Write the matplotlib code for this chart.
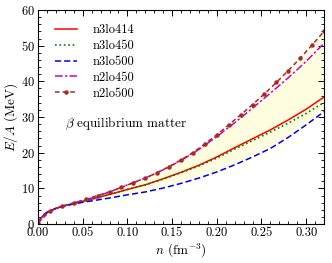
import matplotlib
matplotlib.use("Agg")
import matplotlib.pyplot as plt
import numpy as np
from matplotlib.ticker import MultipleLocator

plt.rcParams['font.family'] = ['cmr10', 'DejaVu Serif']
plt.rcParams['mathtext.fontset'] = 'cm'
plt.rcParams['axes.formatter.use_mathtext'] = True

n = [0.0, 0.005, 0.01, 0.02, 0.03, 0.04, 0.05, 0.06, 0.08, 0.10, 0.12, 0.14,
     0.16, 0.18, 0.20, 0.22, 0.24, 0.26, 0.28, 0.30, 0.32]
n3lo414 = [0.3, 2.2, 3.2, 4.4, 5.2, 5.8, 6.4, 7.0, 8.3, 9.7, 11.0, 12.7,
           14.5, 16.5, 18.8, 21.4, 23.9, 26.4, 29.2, 32.2, 35.6]
n3lo450 = [0.3, 2.2, 3.2, 4.4, 5.2, 5.8, 6.4, 7.0, 8.3, 9.7, 11.0, 12.6,
           14.4, 16.3, 18.5, 21.0, 23.4, 25.8, 28.3, 31.0, 34.1]
n3lo500 = [0.5, 2.4, 3.3, 4.4, 5.1, 5.6, 6.1, 6.5, 7.3, 8.2, 9.0, 10.1,
           11.4, 12.9, 14.6, 16.6, 18.8, 21.2, 24.3, 27.8, 31.5]
n2lo450 = [0.3, 2.2, 3.2, 4.4, 5.2, 5.9, 6.6, 7.3, 9.0, 11.0, 12.9, 15.2,
           17.8, 20.9, 24.5, 28.4, 32.5, 36.7, 41.0, 45.6, 50.7]

n_m = [0.0, 0.01333, 0.02667, 0.04, 0.05333, 0.06667, 0.08, 0.09333, 0.10667,
       0.12, 0.13333, 0.14667, 0.16, 0.17333, 0.18667, 0.20, 0.21333, 0.22667,
       0.24, 0.25333, 0.26667, 0.28, 0.29333, 0.30667, 0.32]
n2lo500 = [0.3, 3.6, 5.0, 5.9, 6.9, 8.0, 9.0, 10.3, 11.6, 12.9, 14.4, 16.1,
           18.0, 20.0, 22.5, 25.0, 27.8, 30.6, 33.5, 36.5, 39.7, 43.0, 46.5,
           50.2, 54.0]

fig = plt.figure(figsize=(3.32, 2.63), dpi=100)
ax = fig.add_axes([0.1145, 0.148, 0.8615, 0.814])

upper = np.interp(n, n_m, n2lo500)
ax.fill_between(n, n3lo500, upper, color='#fffde0', lw=0, zorder=0)

ax.plot(n, n3lo414, '-', color='#ff0000', lw=1.1, label='n3lo414')
ax.plot(n, n3lo450, ':', color='#008000', lw=1.2, label='n3lo450')
ax.plot(n, n3lo500, '--', color='#0000ee', lw=1.1, dashes=(4, 2), label='n3lo500')
ax.plot(n, n2lo450, '-.', color='#cc00cc', lw=1.1, dashes=(5, 1.5, 1.5, 1.5), label='n2lo450')
ax.plot(n_m, n2lo500, '--', color='#a52a2a', lw=1.1, dashes=(3, 2), marker='o',
        ms=2.2, label='n2lo500')

ax.set_xlim(0, 0.32)
ax.set_ylim(0, 60)
ax.xaxis.set_major_locator(MultipleLocator(0.05))
ax.xaxis.set_minor_locator(MultipleLocator(0.01))
ax.yaxis.set_major_locator(MultipleLocator(10))
ax.yaxis.set_minor_locator(MultipleLocator(2))
ax.xaxis.set_major_formatter(matplotlib.ticker.FormatStrFormatter('%.2f'))
ax.tick_params(which='both', direction='in', top=True, right=True, labelsize=9, pad=2)
ax.tick_params(which='major', length=4, width=0.7)
ax.tick_params(which='minor', length=2, width=0.6)
for s in ax.spines.values():
    s.set_linewidth(0.8)

ax.set_xlabel(r'$n$ (fm$^{-3}$)', fontsize=9.5, labelpad=2)
ax.set_ylabel(r'$E/A$ (MeV)', fontsize=9.5, labelpad=1)

ax.text(0.094, 0.467, r'$\beta$ equilibrium matter', transform=ax.transAxes,
        fontsize=9.5, va='center', ha='left')

leg = ax.legend(loc='upper left', frameon=False, fontsize=9, handlelength=1.75,
                handletextpad=1.2, labelspacing=0.3, borderaxespad=0.3,
                bbox_to_anchor=(0.03, 0.975))

fig.savefig('out.png', dpi=100)
